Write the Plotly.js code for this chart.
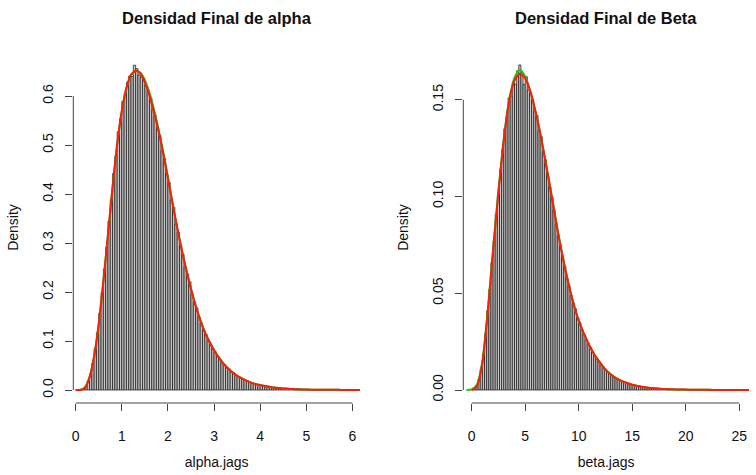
<!DOCTYPE html>
<html>
<head>
<meta charset="utf-8">
<script src="https://cdn.plot.ly/plotly-3.0.1.min.js"></script>
<style>html,body{margin:0;padding:0;background:#fff;}#chart{width:756px;height:475px;}</style>
</head>
<body>
<div id="chart"></div>
<script>
// ---------- DATA ----------
const panelTitles = ["Densidad Final de alpha", "Densidad Final de Beta"];
const xLabels = ["alpha.jags", "beta.jags"];
const yLabel = "Density";

// alpha histogram (density per bin), bins start at 0, width 0.05
const alphaBinStart = 0;
const alphaBinWidth = 0.05;
const alphaHist = [
  0, 0, 0.0005, 0.002, 0.008, 0.019, 0.033, 0.055, 0.085, 0.117,
  0.157, 0.199, 0.247, 0.291, 0.345, 0.389, 0.442, 0.478, 0.527, 0.553,
  0.589, 0.604, 0.628, 0.641, 0.640, 0.663, 0.656, 0.643, 0.638, 0.636,
  0.622, 0.612, 0.596, 0.571, 0.560, 0.533, 0.520, 0.489, 0.473, 0.441,
  0.424, 0.388, 0.373, 0.339, 0.322, 0.294, 0.277, 0.251, 0.237, 0.221,
  0.196, 0.180, 0.168, 0.149, 0.137, 0.122, 0.114, 0.102, 0.094, 0.084,
  0.078, 0.070, 0.063, 0.056, 0.052, 0.047, 0.043, 0.037, 0.035, 0.031,
  0.028, 0.025, 0.023, 0.020, 0.019, 0.016, 0.015, 0.013, 0.012, 0.011,
  0.0095, 0.0085, 0.0075, 0.0068, 0.006, 0.0052, 0.0047, 0.0042, 0.0037, 0.0033,
  0.003, 0.0027, 0.0024, 0.0021, 0.0019, 0.0017, 0.0015, 0.0013, 0.0012, 0.001,
  0.0009, 0.0008, 0.0008, 0.0007, 0.0006, 0.0006, 0.0005, 0.0005, 0.0004, 0.0004,
  0.0003, 0.0003, 0.0003, 0.0002, 0.0002, 0.0002, 0.0002, 0.0001, 0.0001, 0.0001
];
// alpha density curves, grid from 0 step 0.1
const alphaCurveStart = 0;
const alphaCurveStep = 0.1;
const alphaRed = [
  0, 0, 0.004, 0.025, 0.068, 0.135, 0.222, 0.318, 0.415, 0.503,
  0.570, 0.617, 0.644, 0.652, 0.646, 0.628, 0.601, 0.566, 0.527, 0.482,
  0.432, 0.381, 0.332, 0.286, 0.244, 0.206, 0.172, 0.143, 0.118, 0.098,
  0.081, 0.066, 0.054, 0.044, 0.036, 0.029, 0.024, 0.019, 0.015, 0.012,
  0.010, 0.008, 0.0065, 0.005, 0.004, 0.0032, 0.0026, 0.002, 0.0016, 0.0013,
  0.001, 0.0008, 0.0007, 0.0006, 0.0005, 0.0004, 0.0003, 0.0003, 0.0002, 0.0002,
  0.0001, 0.0001, 0.0001
];
const alphaGreen = [
  0, 0.0005, 0.006, 0.027, 0.069, 0.135, 0.221, 0.316, 0.413, 0.501,
  0.568, 0.615, 0.643, 0.651, 0.648, 0.633, 0.607, 0.572, 0.531, 0.485,
  0.434, 0.382, 0.332, 0.286, 0.245, 0.207, 0.173, 0.144, 0.119, 0.099,
  0.082, 0.067, 0.055, 0.045, 0.036, 0.029, 0.024, 0.019, 0.015, 0.012,
  0.010, 0.008, 0.0065, 0.005, 0.004, 0.0032, 0.0026, 0.002, 0.0016, 0.0013,
  0.001, 0.0008, 0.0007, 0.0006, 0.0005, 0.0004, 0.0003, 0.0003, 0.0002, 0.0002,
  0.0001, 0.0001, 0.0001
];

// beta histogram, bins start at 0, width 0.2
const betaBinStart = 0;
const betaBinWidth = 0.2;
const betaHist = [
  0.0001, 0.0008, 0.002, 0.0055, 0.011, 0.0185, 0.029, 0.041, 0.052, 0.066,
  0.077, 0.091, 0.101, 0.114, 0.124, 0.135, 0.141, 0.151, 0.152, 0.159,
  0.158, 0.165, 0.168, 0.164, 0.158, 0.162, 0.155, 0.153, 0.150, 0.144,
  0.142, 0.134, 0.131, 0.123, 0.119, 0.112, 0.105, 0.100, 0.093, 0.086,
  0.080, 0.075, 0.069, 0.064, 0.058, 0.054, 0.049, 0.045, 0.042, 0.037,
  0.035, 0.031, 0.029, 0.026, 0.024, 0.022, 0.020, 0.018, 0.0165, 0.015,
  0.0135, 0.012, 0.0108, 0.0095, 0.0085, 0.0077, 0.0069, 0.0061, 0.0055, 0.0049,
  0.0045, 0.0040, 0.0036, 0.0032, 0.0029, 0.0026, 0.0023, 0.0021, 0.0019, 0.0017,
  0.0015, 0.0013, 0.0012, 0.0011, 0.0010, 0.0009, 0.0008, 0.0007, 0.0006, 0.0006,
  0.0005, 0.0005, 0.0004, 0.0004, 0.0003, 0.0003, 0.0003, 0.0003, 0.0002, 0.0002,
  0.0002, 0.0002, 0.0002, 0.0001, 0.0001, 0.0001, 0.0001, 0.0001, 0.0001, 0.0001,
  0.0001, 0.00005, 0.00005, 0.00005, 0.00005, 0.00005, 0.00005, 0.00005, 0.00003, 0.00003,
  0.00003, 0.00003, 0.00002, 0.00002, 0.00002
];
// beta density curves
const betaRedStart = 0;
const betaGreenStart = -0.5;
const betaCurveStep = 0.5;
const betaRed = [
  0, 0.002, 0.014, 0.040, 0.072, 0.102, 0.129, 0.149, 0.160, 0.1635,
  0.161, 0.154, 0.143, 0.130, 0.115, 0.099, 0.083, 0.069, 0.056, 0.045,
  0.036, 0.029, 0.023, 0.018, 0.014, 0.0105, 0.008, 0.006, 0.0047, 0.0036,
  0.0027, 0.0021, 0.0016, 0.0012, 0.0009, 0.0007, 0.0005, 0.0004, 0.0003, 0.00025,
  0.0002, 0.00015, 0.0001, 0.0001, 0.00008, 0.00006, 0.00005, 0.00004, 0.00003, 0.00002,
  0.00002, 0.00001, 0.00001
];
const betaGreen = [
  0, 0.0003, 0.003, 0.015, 0.041, 0.073, 0.103, 0.130, 0.150, 0.1615,
  0.1655, 0.162, 0.154, 0.143, 0.130, 0.115, 0.100, 0.084, 0.069, 0.056,
  0.045, 0.036, 0.029, 0.023, 0.018, 0.014, 0.0106, 0.0081, 0.0061, 0.0047,
  0.0036, 0.0027, 0.0021, 0.0016, 0.0012, 0.0009, 0.0007, 0.0005, 0.0004, 0.0003,
  0.00025, 0.0002, 0.00015, 0.0001, 0.0001, 0.00008, 0.00006, 0.00005, 0.00004, 0.00003,
  0.00002, 0.00002, 0.00001, 0.00001
];

const alphaTicksX = [0, 1, 2, 3, 4, 5, 6];
const alphaTicksY = [0, 0.1, 0.2, 0.3, 0.4, 0.5, 0.6];
const betaTicksX = [0, 5, 10, 15, 20, 25];
const betaTicksY = [0, 0.05, 0.10, 0.15];

// ---------- BUILD ----------
const grid = (start, step, n) => Array.from({length: n}, (_, i) => +(start + i * step).toFixed(4));
const centers = (start, w, n) => Array.from({length: n}, (_, i) => +(start + (i + 0.5) * w).toFixed(4));

const FONT = '"Liberation Sans", Arial, Helvetica, sans-serif';
const barStyle = {color: '#c8c8c8', line: {color: '#111', width: 0.7}};
const greenLine = {color: '#1fc41f', width: 2, shape: 'spline', smoothing: 0.6};
const redLine = {color: '#ff1a0a', width: 2, shape: 'spline', smoothing: 0.6};

const traces = [
  {type: 'bar', x: centers(alphaBinStart, alphaBinWidth, alphaHist.length), y: alphaHist,
   width: alphaBinWidth, marker: barStyle, xaxis: 'x', yaxis: 'y', hoverinfo: 'skip'},
  {type: 'scatter', mode: 'lines', x: grid(alphaCurveStart, alphaCurveStep, alphaGreen.length), y: alphaGreen,
   line: greenLine, xaxis: 'x', yaxis: 'y'},
  {type: 'scatter', mode: 'lines', x: grid(alphaCurveStart, alphaCurveStep, alphaRed.length), y: alphaRed,
   line: redLine, xaxis: 'x', yaxis: 'y'},
  {type: 'bar', x: centers(betaBinStart, betaBinWidth, betaHist.length), y: betaHist,
   width: betaBinWidth, marker: barStyle, xaxis: 'x2', yaxis: 'y2', hoverinfo: 'skip'},
  {type: 'scatter', mode: 'lines', x: grid(betaGreenStart, betaCurveStep, betaGreen.length), y: betaGreen,
   line: greenLine, xaxis: 'x2', yaxis: 'y2'},
  {type: 'scatter', mode: 'lines', x: grid(betaRedStart, betaCurveStep, betaRed.length), y: betaRed,
   line: redLine, xaxis: 'x2', yaxis: 'y2'}
];

const W = 756, H = 475;
const px = v => v / W, py = v => 1 - v / H;
const TXT = 14;

const axisCommon = {
  showgrid: false, zeroline: false, showline: false,
  ticks: 'outside', ticklen: 7, tickwidth: 1, tickcolor: '#444',
  tickfont: {family: FONT, size: TXT, color: '#111'}
};

const layout = {
  width: W, height: H,
  margin: {l: 0, r: 0, t: 0, b: 0},
  paper_bgcolor: '#fff', plot_bgcolor: '#fff',
  showlegend: false, bargap: 0,
  font: {family: FONT, color: '#111'},
  xaxis: Object.assign({}, axisCommon, {
    domain: [px(73.3), px(360)], range: [-0.052, 6.165], anchor: 'y',
    tickvals: alphaTicksX, ticklabelstandoff: 13,
    title: {text: xLabels[0], font: {family: FONT, size: TXT, color: '#111'}, standoff: 14}
  }),
  yaxis: Object.assign({}, axisCommon, {
    domain: [py(403), py(52)], range: [-0.0265, 0.69], anchor: 'x',
    tickvals: alphaTicksY, tickformat: '.1f', tickangle: -90, ticklabelstandoff: 7,
    title: {text: yLabel, font: {family: FONT, size: TXT, color: '#111'}, standoff: 17}
  }),
  xaxis2: Object.assign({}, axisCommon, {
    domain: [px(463.3), px(749)], range: [-0.785, 25.92], anchor: 'y2',
    tickvals: betaTicksX, ticklabelstandoff: 13,
    title: {text: xLabels[1], font: {family: FONT, size: TXT, color: '#111'}, standoff: 14}
  }),
  yaxis2: Object.assign({}, axisCommon, {
    domain: [py(403), py(52)], range: [-0.00672, 0.1747], anchor: 'x2',
    tickvals: betaTicksY, tickformat: '.2f', tickangle: -90, ticklabelstandoff: 7,
    title: {text: yLabel, font: {family: FONT, size: TXT, color: '#111'}, standoff: 17}
  }),
  shapes: [
    {type: 'line', xref: 'x', yref: 'y domain', x0: alphaTicksX[0], x1: alphaTicksX[alphaTicksX.length - 1], y0: 0, y1: 0, line: {color: '#444', width: 1}},
    {type: 'line', xref: 'x domain', yref: 'y', x0: 0, x1: 0, y0: alphaTicksY[0], y1: alphaTicksY[alphaTicksY.length - 1], line: {color: '#444', width: 1}},
    {type: 'line', xref: 'x2', yref: 'y2 domain', x0: betaTicksX[0], x1: betaTicksX[betaTicksX.length - 1], y0: 0, y1: 0, line: {color: '#444', width: 1}},
    {type: 'line', xref: 'x2 domain', yref: 'y2', x0: 0, x1: 0, y0: betaTicksY[0], y1: betaTicksY[betaTicksY.length - 1], line: {color: '#444', width: 1}}
  ],
  annotations: [
    {text: '<b>' + panelTitles[0] + '</b>', xref: 'paper', yref: 'paper', x: px(216.7), y: py(18),
     xanchor: 'center', yanchor: 'middle', showarrow: false, font: {family: FONT, size: 16.5, color: '#111'}},
    {text: '<b>' + panelTitles[1] + '</b>', xref: 'paper', yref: 'paper', x: px(606), y: py(18),
     xanchor: 'center', yanchor: 'middle', showarrow: false, font: {family: FONT, size: 16.5, color: '#111'}}
  ]
};

Plotly.newPlot('chart', traces, layout, {staticPlot: true, displayModeBar: false});
</script>
</body>
</html>
